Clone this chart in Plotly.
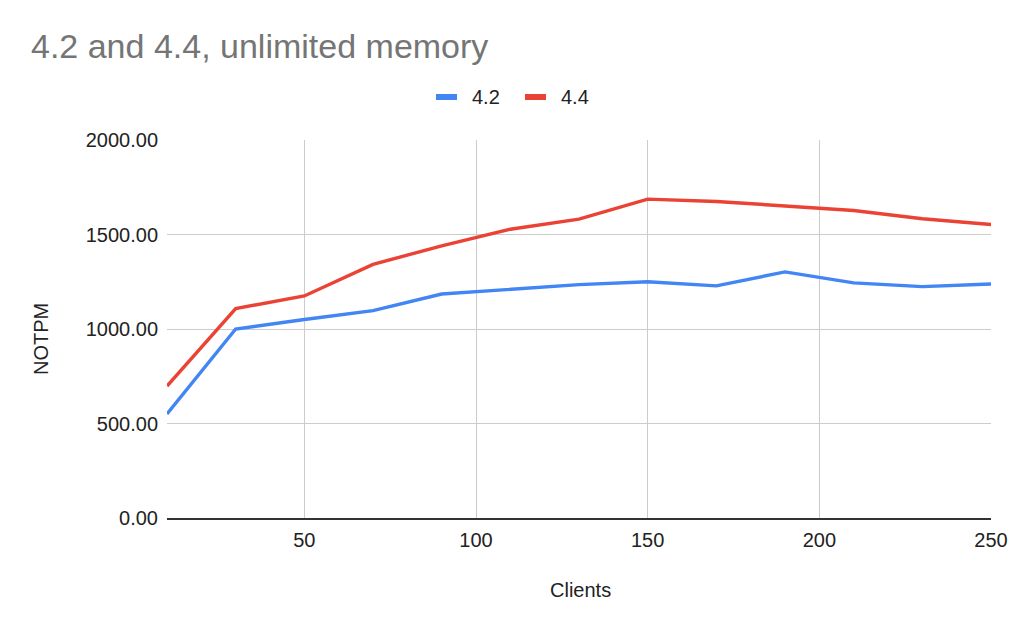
import plotly.graph_objects as go

clients = [10, 30, 50, 70, 90, 110, 130, 150, 170, 190, 210, 230, 250]
notpm_42 = [550, 1000, 1050, 1097, 1185, 1210, 1235, 1250, 1228, 1302, 1244, 1224, 1238]
notpm_44 = [698, 1108, 1175, 1342, 1440, 1528, 1581, 1687, 1675, 1650, 1627, 1583, 1553]

series_names = ["4.2", "4.4"]
series_colors = ["#4285F4", "#EA4335"]

x_ticks = [50, 100, 150, 200, 250]
y_ticks = [0, 500, 1000, 1500, 2000]

font = "Liberation Sans, Arial, sans-serif"

# plot area in figure pixels (page adds 8px body margin)
L, T, W, H = 159, 132, 824, 378


def px(x):
    return (x - 8 - L) / W


def py(y):
    return 1 - (y - 8 - T) / H


fig = go.Figure()
for name, ys, color in zip(series_names, [notpm_42, notpm_44], series_colors):
    fig.add_trace(go.Scatter(x=clients, y=ys, mode="lines", name=name,
                             line=dict(color=color, width=3.4), showlegend=False))

# legend drawn by hand (short thick swatches like the original)
shapes = []
annotations = []
for name, color, x0, tx in zip(series_names, series_colors, [436, 525], [470, 559]):
    shapes.append(dict(type="line", xref="paper", yref="paper",
                       x0=px(x0), x1=px(x0 + 21), y0=py(97), y1=py(97),
                       line=dict(color=color, width=6)))
    annotations.append(dict(text=name, xref="paper", yref="paper", x=px(tx), y=py(97),
                            xanchor="left", yanchor="middle", showarrow=False,
                            font=dict(size=20, color="#222222")))

annotations.append(dict(text="Clients", xref="paper", yref="paper", x=px(580), y=py(590),
                        xanchor="center", yanchor="middle", showarrow=False,
                        font=dict(size=20, color="#222222")))
annotations.append(dict(text="NOTPM", xref="paper", yref="paper", x=px(41), y=py(339),
                        xanchor="center", yanchor="middle", textangle=-90, showarrow=False,
                        font=dict(size=20, color="#222222")))

fig.update_layout(
    width=1024, height=633,
    paper_bgcolor="white", plot_bgcolor="white",
    margin=dict(l=L, r=1024 - L - W, t=T, b=633 - T - H),
    font=dict(family=font, size=20, color="#222222"),
    title=dict(text="4.2 and 4.4, unlimited memory", x=23 / 1024, xanchor="left",
               y=1 - 38 / 633, yanchor="middle",
               font=dict(family=font, size=34, color="#757575")),
    showlegend=False,
    shapes=shapes,
    annotations=annotations,
    xaxis=dict(
        range=[10, 250], tickvals=x_ticks, showgrid=True, gridcolor="#cccccc",
        gridwidth=1, zeroline=False, showline=True, linecolor="#333333", linewidth=1.5,
        ticks="", ticklabelstandoff=3,
    ),
    yaxis=dict(
        range=[0, 2000], tickvals=y_ticks, tickformat=".2f",
        showgrid=True, gridcolor="#cccccc", gridwidth=1, zeroline=False,
        ticks="", ticklabelstandoff=8,
    ),
)

fig.write_html("out.html")
